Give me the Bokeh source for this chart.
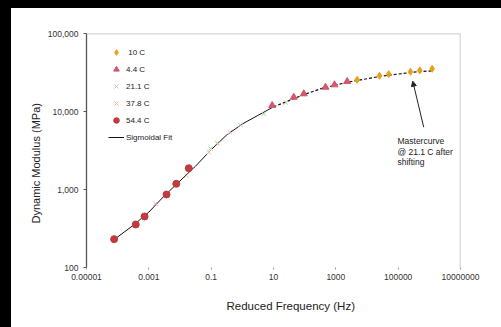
from bokeh.plotting import figure
from bokeh.models import (Range1d, FixedTicker, CustomJSTickFormatter, Legend, LegendItem,
                          Label, Span, Arrow, NormalHead, Title)
from bokeh.embed import file_html
from bokeh.resources import INLINE

# ---------------- data ----------------
freq_10C = [4830, 25100, 49900, 248000, 493000, 1230000]
mod_10C = [25470, 28700, 30080, 32300, 33570, 35250]

freq_4_4C = [9.06, 44.7, 93.6, 466, 904, 2312]
mod_4_4C = [11940, 15250, 16860, 20500, 21980, 24260]

freq_21_1C = [0.095, 0.873, 4.88, 25]
mod_21_1C = [3355, 6714, 9350, 13030]

freq_37_8C = [0.00164, 0.0161, 0.084, 0.156, 0.395]
mod_37_8C = [656, 1511, 3006, 3925, 5430]

freq_54_4C = [0.000077, 0.00038, 0.00073, 0.0037, 0.0076, 0.0191]
mod_54_4C = [231, 356, 451, 863, 1183, 1875]

fit_freq_low = [0.000078, 0.000316, 0.001, 0.00316, 0.01, 0.0316, 0.1, 0.316, 1, 3.16, 10]
fit_mod_low = [229, 347, 513, 832, 1288, 1995, 3236, 5012, 6918, 8913, 11482]
fit_freq_high = [10, 31.6, 100, 316, 1000, 3162, 10000, 31623, 100000, 316228, 1230000]
fit_mod_high = [11482, 13804, 16596, 19498, 21878, 24266, 26303, 28510, 30200, 31989, 33266]

x_ticks = [1e-5, 1e-3, 1e-1, 10, 1000, 1e5, 1e7]
x_tick_labels = ["0.00001", "0.001", "0.1", "10", "1000", "100000", "10000000"]
y_ticks = [100, 1000, 10000, 100000]
y_tick_labels = ["100", "1,000", "10,000", "100,000"]

series_labels = [" 10 C", "4.4 C", "21.1 C", "37.8 C", "54.4 C", "Sigmoidal Fit"]
x_title = "Reduced Frequency (Hz)"
y_title = "Dynamic Modulus (MPa)"
note_lines = ["Mastercurve", "@ 21.1 C after", "shifting"]

FONT = "Liberation Sans"

p = figure(width=501, height=327, x_axis_type="log", y_axis_type="log",
           x_range=Range1d(1e-5, 1e7), y_range=Range1d(100, 100000),
           output_backend="svg", toolbar_location=None,
           min_border_left=86, min_border_right=41, min_border_top=33, min_border_bottom=60,
           styles={"background-color": "#ffffff", "box-shadow": "inset 11px 8px 0 0 #000000"})
p.outline_line_color = None
p.xgrid.visible = False
p.ygrid.visible = False
p.background_fill_color = "white"
p.border_fill_color = None

fmt_code = """
for (let i = 0; i < tvals.length; i++) {
  if (Math.abs(Math.log10(tvals[i]) - Math.log10(tick)) < 1e-6) return tlabels[i];
}
return "";
"""
p.xaxis.ticker = FixedTicker(ticks=x_ticks, minor_ticks=[])
p.xaxis.formatter = CustomJSTickFormatter(args=dict(tvals=x_ticks, tlabels=x_tick_labels), code=fmt_code)
p.yaxis.ticker = FixedTicker(ticks=y_ticks, minor_ticks=[])
p.yaxis.formatter = CustomJSTickFormatter(args=dict(tvals=y_ticks, tlabels=y_tick_labels), code=fmt_code)

for ax in (p.xaxis, p.yaxis):
    ax.major_label_text_font = FONT
    ax.major_label_text_font_size = "8.5px"
    ax.major_label_text_color = "#333333"
    ax.minor_tick_line_color = None

p.xaxis.axis_line_color = None
p.xaxis.major_tick_line_color = "#999999"
p.xaxis.major_tick_in = 0
p.xaxis.major_tick_out = 2
p.xaxis.major_label_standoff = 4

p.yaxis.axis_line_color = "#555555"
p.yaxis.axis_line_width = 1.3
p.yaxis.major_tick_line_color = "#555555"
p.yaxis.major_tick_in = 0
p.yaxis.major_tick_out = 3
p.yaxis.major_label_standoff = 5

# top and right frame borders
p.add_layout(Span(location=100000, dimension="width", line_color="#bdbdbd", line_width=1.5))
p.add_layout(Span(location=1e7, dimension="height", line_color="#bdbdbd", line_width=1.5))

# fit line
r_fit = p.line(fit_freq_low, fit_mod_low, line_color="#111111", line_width=1)
p.line(fit_freq_high, fit_mod_high, line_color="#111111", line_width=1.2, line_dash="3 2")

r10 = p.scatter(freq_10C, mod_10C, marker="diamond", size=7, fill_color="#E6A117", line_color="#E6A117")
r44 = p.scatter(freq_4_4C, mod_4_4C, marker="triangle", size=7, fill_color="#D6566C", line_color="#D6566C")
r21 = p.scatter(freq_21_1C, mod_21_1C, marker="x", size=6, line_color="#A6D5A6", line_width=1)
r37 = p.scatter(freq_37_8C, mod_37_8C, marker="x", size=6, line_color="#F4B6A0", line_width=1)
r54 = p.scatter(freq_54_4C, mod_54_4C, marker="circle", size=7, fill_color="#C13A3C", line_color="#C13A3C")

legend = Legend(items=[LegendItem(label=series_labels[i], renderers=[r])
                       for i, r in enumerate([r10, r44, r21, r37, r54, r_fit])],
                location=(22, 123), padding=0, margin=0, spacing=3,
                glyph_width=16, glyph_height=14, label_height=14, label_standoff=2,
                label_text_font=FONT, label_text_font_size="8px", label_text_color="#222222",
                background_fill_alpha=0, border_line_color=None)
p.add_layout(legend)

# axis titles
p.add_layout(Title(text=x_title, align="left", offset=140, standoff=30, text_font=FONT,
                   text_font_size="11.5px", text_font_style="normal", text_color="#222222"), "below")
p.add_layout(Title(text=y_title, align="left", offset=44, standoff=6, text_font=FONT,
                   text_font_size="11px", text_font_style="normal", text_color="#222222"), "left")

# annotation
for txt, yy in zip(note_lines, [4920, 3556, 2612]):
    p.add_layout(Label(x=95000, y=yy, text=txt, text_font=FONT, text_font_size="8.5px",
                       text_color="#222222", text_align="left", text_baseline="top"))
p.add_layout(Arrow(x_start=660000, y_start=6290, x_end=294000, y_end=24450,
                   line_color="#222222", line_width=1,
                   end=NormalHead(size=5, fill_color="#222222", line_color="#222222")))

html = file_html(p, INLINE)
html = html.replace("</head>", "<style>html, body { overflow: hidden !important; background-color: #ffffff; }</style></head>", 1)
open("out.html", "w").write(html)
